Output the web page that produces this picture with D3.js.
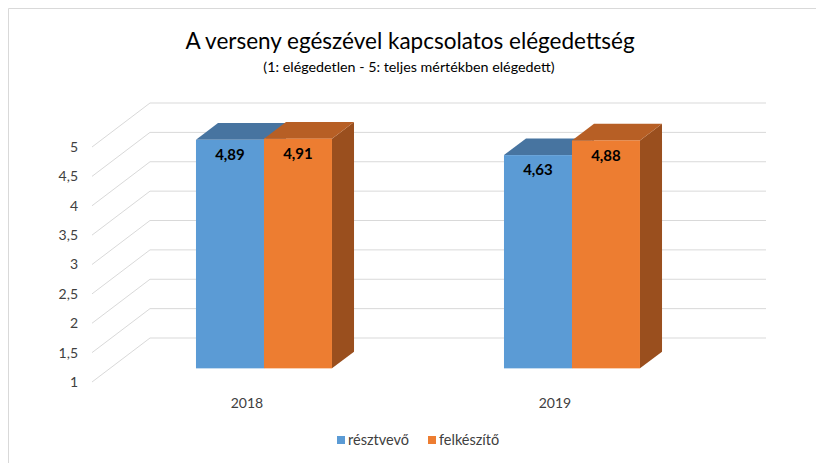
<!DOCTYPE html>
<meta charset="utf-8">
<script src="https://cdn.jsdelivr.net/npm/d3@7"></script>
<style>
  body { margin: 0; background: #fff; }
  text { font-family: Lato, "Open Sans", sans-serif; fill: #000; }
  .grid { stroke: #d9d9d9; stroke-width: 1; fill: none; }
</style>

<body>
  <script>
    // data
    var years = ["2018", "2019"];
    var seriesNames = ["résztvevő", "felkészítő"];
    var resztvevo = [4.89, 4.63];
    var felkeszito = [4.91, 4.88];
    var yTicks = [1, 1.5, 2, 2.5, 3, 3.5, 4, 4.5, 5];

    var frontColors = ["#5b9bd5", "#ed7d31"];
    var topColors = ["#4774a0", "#b75f25"];
    var sideColors = ["#3d6a94", "#9a4f1e"];

    var width = 816, height = 463;

    var svg = d3.select("body").append("svg")
      .attr("width", width)
      .attr("height", height);

    // chart frame
    svg.append("path")
      .attr("d", "M8.5," + height + "V8.5H" + width)
      .attr("fill", "none")
      .attr("stroke", "#d9d9d9");

    // 3d projection: depth t in [0,1]
    var depthX = 58, depthY = -44;
    var x0 = d3.scaleBand().domain(years).range([92, 708]);
    var y = d3.scaleLinear().domain([1, 5]).range([382, 147]);

    function px(x, t) { return x + depthX * t; }
    function py(v, t) { return y(v) + depthY * t; }

    // back wall + side wall gridlines
    var grid = svg.append("g");
    yTicks.forEach(function (v) {
      grid.append("path")
        .attr("class", "grid")
        .attr("d", "M" + px(92, 0) + "," + py(v, 0) +
          "L" + px(92, 1) + "," + py(v, 1) +
          "H" + px(708, 1));
    });

    // y labels
    svg.append("g").selectAll("text")
      .data(yTicks)
      .enter().append("text")
      .attr("x", 78)
      .attr("y", function (d) { return y(d); })
      .attr("dy", "0.35em")
      .attr("text-anchor", "end")
      .style("font-size", "14px")
      .style("fill", "#404040")
      .text(function (d) { return String(d).replace(".", ","); });

    // bars
    var t0 = 0.31, t1 = 0.69;
    var data = [];
    years.forEach(function (yr, i) {
      [resztvevo[i], felkeszito[i]].forEach(function (v, s) {
        data.push({ year: yr, s: s, value: v });
      });
    });

    var x1 = d3.scaleBand().domain([0, 1]);

    var bars = svg.append("g");
    data.forEach(function (d) {
      var c = x0(d.year) + x0.bandwidth() / 2;
      x1.range([c - 68, c + 68]);
      var xl = x1(d.s), xr = x1(d.s) + x1.bandwidth();
      var g = bars.append("g");
      // right side
      g.append("path")
        .attr("fill", sideColors[d.s])
        .attr("d", "M" + px(xr, t0) + "," + py(1, t0) +
          "L" + px(xr, t1) + "," + py(1, t1) +
          "L" + px(xr, t1) + "," + py(d.value, t1) +
          "L" + px(xr, t0) + "," + py(d.value, t0) + "Z");
      // top
      g.append("path")
        .attr("fill", topColors[d.s])
        .attr("d", "M" + px(xl, t0) + "," + py(d.value, t0) +
          "L" + px(xl, t1) + "," + py(d.value, t1) +
          "L" + px(xr, t1) + "," + py(d.value, t1) +
          "L" + px(xr, t0) + "," + py(d.value, t0) + "Z");
      // front
      g.append("rect")
        .attr("fill", frontColors[d.s])
        .attr("x", px(xl, t0))
        .attr("y", py(d.value, t0))
        .attr("width", xr - xl)
        .attr("height", py(1, t0) - py(d.value, t0));
      // value label
      g.append("text")
        .attr("x", px((xl + xr) / 2, t0))
        .attr("y", py(d.value, t0) + 15)
        .attr("dy", "0.35em")
        .attr("text-anchor", "middle")
        .style("font-size", "15px")
        .style("font-weight", 700)
        .text(d.value.toFixed(2).replace(".", ","));
    });

    // category labels
    svg.append("g").selectAll("text")
      .data(years)
      .enter().append("text")
      .attr("x", function (d) { return x0(d) + x0.bandwidth() / 2 + 1; })
      .attr("y", 403)
      .attr("dy", "0.35em")
      .attr("text-anchor", "middle")
      .style("font-size", "14px")
      .style("fill", "#404040")
      .text(function (d) { return d; });

    // titles
    svg.append("text")
      .attr("x", 410).attr("y", 41)
      .attr("dy", "0.35em")
      .attr("text-anchor", "middle")
      .style("font-size", "22.5px")
      .text("A verseny egészével kapcsolatos elégedettség");
    svg.append("text")
      .attr("x", 409).attr("y", 67)
      .attr("dy", "0.35em")
      .attr("text-anchor", "middle")
      .style("font-size", "14.3px")
      .text("(1: elégedetlen - 5: teljes mértékben elégedett)");

    // legend
    var legendX = [337, 428];
    var legend = svg.append("g");
    seriesNames.forEach(function (n, i) {
      legend.append("rect")
        .attr("x", legendX[i]).attr("y", 436)
        .attr("width", 8).attr("height", 8)
        .attr("fill", frontColors[i]);
      legend.append("text")
        .attr("x", legendX[i] + 11).attr("y", 440)
        .attr("dy", "0.35em")
        .style("font-size", "14.5px")
        .style("fill", "#404040")
        .text(n);
    });
  </script>
</body>

</html>
